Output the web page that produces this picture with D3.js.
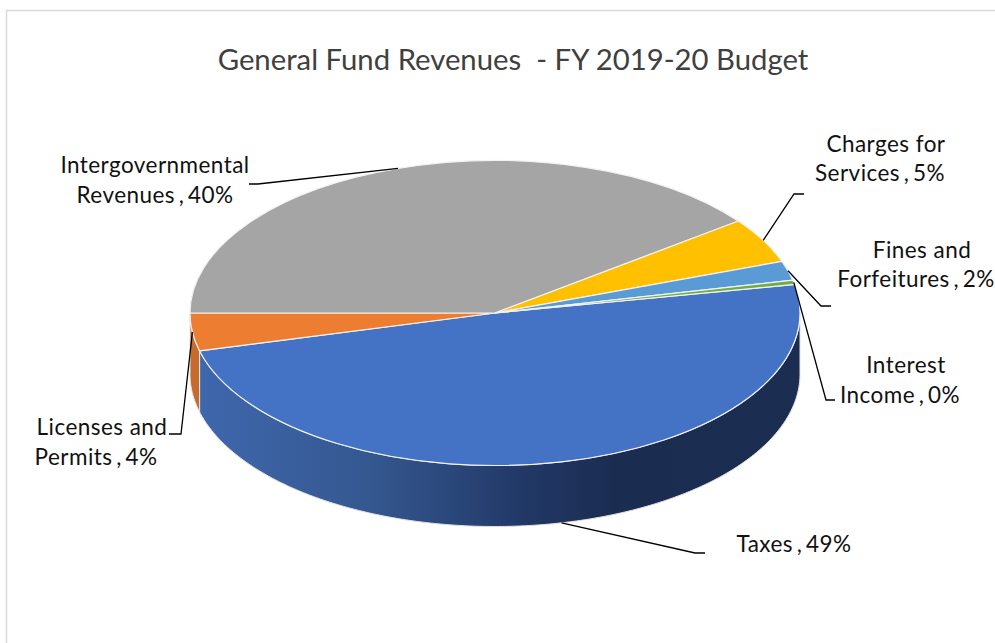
<!DOCTYPE html>
<html>
<head>
<meta charset="utf-8">
<script src="https://cdn.jsdelivr.net/npm/d3@7"></script>
<style>
	html, body { margin: 0; padding: 0; background: #fff; }
	svg { display: block; }
	text { font-family: Lato, "Noto Sans", sans-serif; }
</style>
</head>
<body>
<div id="chart-area"></div>
<script>

// Data
var categories = ["Taxes", "Licenses and Permits", "Intergovernmental Revenues", "Charges for Services", "Fines and Forfeitures", "Interest Income"];
var shares = [49, 4, 39.7, 4.8, 2.05, 0.45];
var firstLines = ["", "Licenses and", "Intergovernmental", "Charges for", "Fines and", "Interest"];
var secondLines = ["Taxes", "Permits", "Revenues", "Services", "Forfeitures", "Income"];
var title = "General Fund Revenues  - FY 2019-20 Budget";

// Colours
var topColors = ["#4472c4", "#ed7d31", "#a5a5a5", "#ffc000", "#5b9bd5", "#70ad47"];
var wallColors = ["url(#taxes-wall)", "#c56b2b", "#8a8a8a", "#d4a000", "#4a80b0", "#5c8f3a"];

// SVG Size
var width = 995,
	height = 643;

// Pie geometry
var cx = 495,
	cy = 313,
	rx = 305,
	ry = 152.5,
	depth = 61;

// Labels: centre and baseline of each line, leader elbow points
var labelLayout = [
	{ lines: [null, [794, 552]], elbow: [[695, 553], [705, 553]] },
	{ lines: [[102, 435], [96, 465]], elbow: [[181, 434], [169, 434]] },
	{ lines: [[155, 173], [155, 203]], elbow: [[258, 184], [249, 184]] },
	{ lines: [[886, 152], [880, 181]], elbow: [[794, 194], [804, 194]] },
	{ lines: [[922, 258], [916, 287]], elbow: [[821, 306], [831, 306]] },
	{ lines: [[906, 373], [900, 403]], elbow: [[826, 400], [835, 400]] }
];

var svg = d3.select("#chart-area")
		.append("svg")
		.attr("width", width)
		.attr("height", height);

// Blue wall gets darker from left to right
var gradient = svg.append("defs").append("linearGradient")
		.attr("id", "taxes-wall")
		.attr("gradientUnits", "userSpaceOnUse")
		.attr("x1", cx - rx).attr("x2", cx + rx)
		.attr("y1", 0).attr("y2", 0);
[[0, "#3f68ae"], [0.3, "#34578f"], [0.55, "#213866"], [0.7, "#1a2c50"], [1, "#1b2d50"]].forEach(function(s){
	gradient.append("stop").attr("offset", s[0]).attr("stop-color", s[1]);
});

// Chart frame, open at right and bottom
svg.append("path")
		.attr("d", d3.line()([[6.5, 643], [6.5, 10.5], [995, 10.5]]))
		.attr("fill", "none")
		.attr("stroke", "#d9d9d9")
		.attr("stroke-width", 1.5);

svg.append("text").text(title)
		.attr("x", 513)
		.attr("y", 70)
		.attr("text-anchor", "middle")
		.attr("font-size", 29.3)
		.attr("fill", "#404040")
		.style("white-space", "pre");

// Taxes starts a little before the east point, and the slices run clockwise
var pie = d3.pie().sort(null).startAngle(79.2 * Math.PI / 180).endAngle((79.2 + 360) * Math.PI / 180);
var arcs = pie(shares);

var ellipseX = function(a){ return cx + rx * Math.sin(a); };
var ellipseY = function(a){ return cy - ry * Math.cos(a); };

// Side wall: only the front half of the ellipse is visible
var wallArea = d3.area()
		.x(function(a){ return ellipseX(a); })
		.y0(function(a){ return ellipseY(a); })
		.y1(function(a){ return ellipseY(a) + depth; });

function wallAngles(d){
	var start = Math.max(d.startAngle, Math.PI / 2),
		end = Math.min(d.endAngle, 3 * Math.PI / 2);
	if(end <= start) return [];
	return d3.range(start, end, 0.01).concat([end]);
}

svg.append("g").selectAll("path")
		.data(arcs)
		.enter()
		.append("path")
		.attr("d", function(d){
			var angles = wallAngles(d);
			return angles.length ? wallArea(angles) : null;
		})
		.attr("fill", function(d, i){ return wallColors[i]; })
		.attr("stroke", "#e2e2e2")
		.attr("stroke-width", 1);

// Top face, drawn as a circle and squashed into an ellipse
var arc = d3.arc().innerRadius(0).outerRadius(rx);

svg.append("g")
		.attr("transform", "translate(" + cx + "," + cy + ") scale(1," + (ry / rx) + ")")
		.selectAll("path")
		.data(arcs)
		.enter()
		.append("path")
		.attr("d", arc)
		.attr("fill", function(d, i){ return topColors[i]; })
		.attr("stroke", "#f2f2f2")
		.attr("stroke-width", 1.2)
		.attr("vector-effect", "non-scaling-stroke");

// Leader lines start on the slice's mid angle
var leader = d3.line();
svg.append("g").selectAll("path")
		.data(arcs)
		.enter()
		.append("path")
		.attr("d", function(d, i){
			var mid = (d.startAngle + d.endAngle) / 2;
			var onFront = Math.cos(mid) < -0.9;
			var start = [ellipseX(mid), ellipseY(mid) + (onFront ? depth : 0)];
			return leader([start].concat(labelLayout[i].elbow));
		})
		.attr("fill", "none")
		.attr("stroke", "#000")
		.attr("stroke-width", 1.3);

var percent = d3.format(".0%");
var labels = svg.append("g").selectAll("text")
		.data(arcs)
		.enter()
		.append("text")
		.attr("font-size", 22.5)
		.attr("letter-spacing", 0.45)
		.attr("fill", "#111")
		.attr("text-anchor", "middle");

labels.each(function(d, i){
	var node = d3.select(this);
	var pos = labelLayout[i].lines;
	if(pos[0]){
		node.append("tspan").attr("x", pos[0][0]).attr("y", pos[0][1]).text(firstLines[i]);
	}
	// the space round the comma is narrow in the reference
	node.append("tspan").attr("x", pos[1][0]).attr("y", pos[1][1])
		.attr("word-spacing", -2.5)
		.text(secondLines[i] + " , " + percent(Math.round(d.value) / 100));
});

</script>
</body>
</html>
